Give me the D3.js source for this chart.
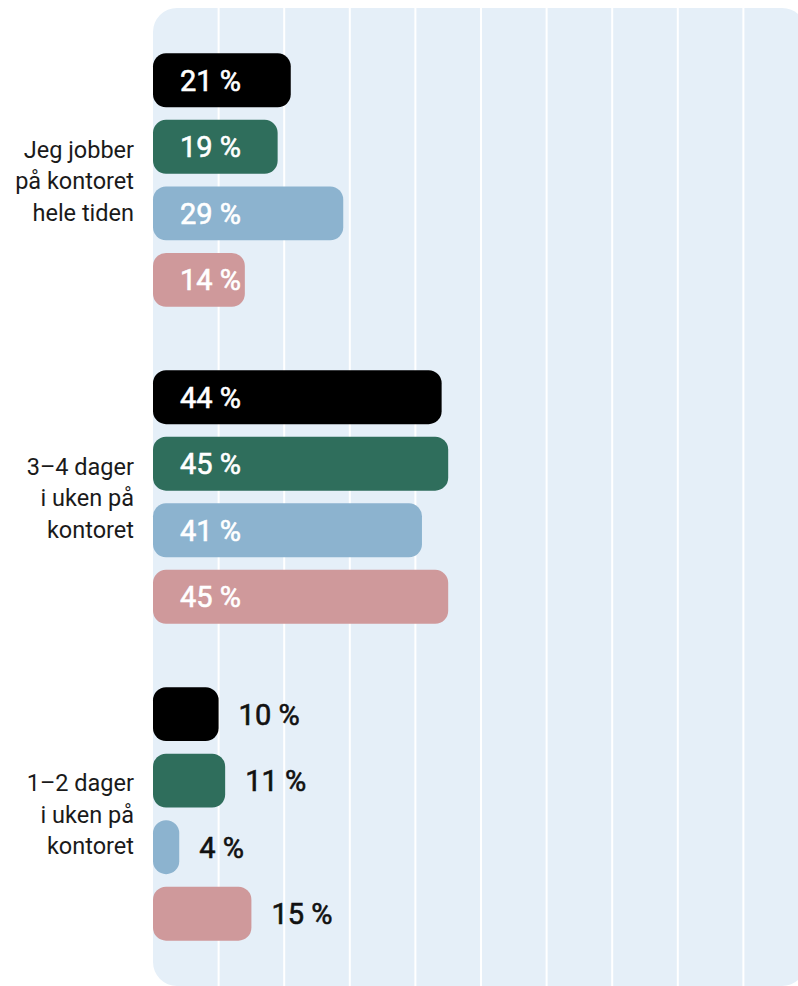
<!DOCTYPE html>
<html lang="no">
<head>
<meta charset="utf-8">
<script src="https://cdn.jsdelivr.net/npm/d3@7"></script>
<style>
  html, body { margin: 0; padding: 0; background: #ffffff; }
  svg { display: block; font-family: Roboto, "Noto Sans", sans-serif; }
</style>
</head>
<body>
<svg id="chart" width="798" height="986"></svg>
<script>
// Svaralternativer (kategorier), én linje per tekstrad
const categories = [
  ["Jeg jobber", "på kontoret", "hele tiden"],
  ["3\u20134 dager", "i uken på", "kontoret"],
  ["1\u20132 dager", "i uken på", "kontoret"]
];
const categoryKeys = ["alltid", "3-4", "1-2"];

// Fire grupper av respondenter, i samme rekkefølge som søylene
const seriesKeys = ["s1", "s2", "s3", "s4"];
const seriesColors = ["#000000", "#2f6e5c", "#8cb3cf", "#cf999b"];

// Andel i prosent per kategori (rad) og serie (kolonne)
const values = [
  [21, 19, 29, 14],
  [44, 45, 41, 45],
  [10, 11, 4, 15]
];

const gridTicks = [10, 20, 30, 40, 50, 60, 70, 80, 90, 100];

const svg = d3.select("#chart");
const plot = { left: 153, top: 8, bottom: 986, right: 806 };

const x = d3.scaleLinear().domain([0, 100]).range([plot.left, plot.left + 656]);

const yGroup = d3.scaleBand()
  .domain(categoryKeys)
  .range([plot.top, plot.bottom])
  .paddingInner(0.2)
  .paddingOuter(0.143);

const yBar = d3.scaleBand()
  .domain(seriesKeys)
  .range([0, yGroup.bandwidth()])
  .paddingInner(0.19)
  .paddingOuter(0);

// Bakgrunn for plotteområdet
svg.append("rect")
  .attr("x", plot.left)
  .attr("y", plot.top)
  .attr("width", plot.right - plot.left)
  .attr("height", plot.bottom - plot.top)
  .attr("rx", 24)
  .attr("fill", "#e5eff8");

// Vertikale rutenettlinjer
svg.append("g")
  .selectAll("line")
  .data(gridTicks)
  .join("line")
  .attr("x1", d => x(d))
  .attr("x2", d => x(d))
  .attr("y1", plot.top)
  .attr("y2", plot.bottom)
  .attr("stroke", "#ffffff")
  .attr("stroke-width", 2);

// Kategorietiketter til venstre
const catG = svg.append("g")
  .selectAll("text")
  .data(categories)
  .join("text")
  .attr("text-anchor", "end")
  .attr("font-size", 23.5)
  .attr("fill", "#1a1a1a")
  .attr("transform", (d, i) => `translate(134, ${yGroup(categoryKeys[i]) + yGroup.bandwidth() / 2})`);

catG.selectAll("tspan")
  .data(d => d)
  .join("tspan")
  .attr("x", 0)
  .attr("y", (d, i, arr) => (i - (arr.length - 1) / 2) * 31.5 + 9)
  .text(d => d);

// Søyler og verdietiketter
const rows = values.map((row, ci) => row.map((v, si) => ({
  cat: categoryKeys[ci], key: seriesKeys[si], value: v, color: seriesColors[si],
  groupMin: d3.min(row)
}))).flat();

const barG = svg.append("g");
const labelStart = 27;

const groups = barG.selectAll("g")
  .data(rows)
  .join("g")
  .attr("transform", d => `translate(0, ${yGroup(d.cat) + yBar(d.key)})`);

groups.append("rect")
  .attr("x", x(0))
  .attr("y", 0)
  .attr("width", d => x(d.value) - x(0))
  .attr("height", yBar.bandwidth())
  .attr("rx", d => Math.min(13, (x(d.value) - x(0)) / 2))
  .attr("fill", d => d.color);

// Etikettene plasseres inne i søylene når hele gruppen har plass, ellers utenfor
groups.append("text")
  .attr("font-size", 29)
  .attr("font-weight", 400)
  .attr("stroke-width", 0.6)
  .attr("y", yBar.bandwidth() / 2 + 10.5)
  .text(d => `${d.value} %`)
  .each(function (d) {
    const t = d3.select(this);
    const minW = x(d.groupMin) - x(0);
    if (minW >= 80) {
      t.attr("x", x(0) + labelStart).attr("fill", "#ffffff").attr("stroke", "#ffffff");
    } else {
      t.attr("x", x(d.value) + 20).attr("fill", "#111111").attr("stroke", "#111111");
    }
  });
</script>
</body>
</html>
